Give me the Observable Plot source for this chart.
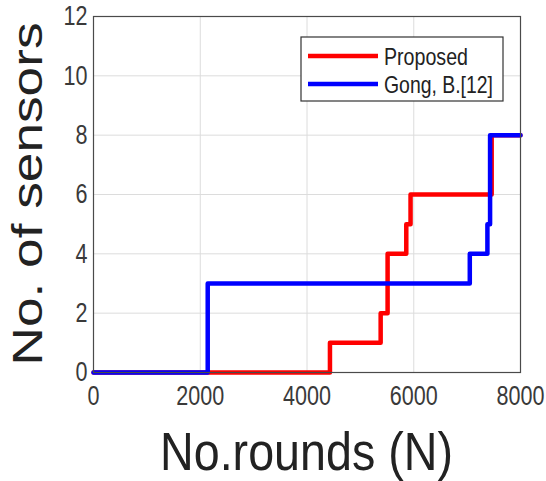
<!DOCTYPE html>
<html>
<head>
<meta charset="utf-8">
<script src="https://cdn.jsdelivr.net/npm/d3@7"></script>
<script src="https://cdn.jsdelivr.net/npm/@observablehq/plot@0.6"></script>
<style>
  html, body { margin: 0; padding: 0; background: #fff; }
  svg { font-family: "Liberation Sans", Arial, sans-serif; }
</style>
</head>
<body>
<div id="chart"></div>
<script>
// Data (step curves)
const seriesNames = ["Proposed", "Gong, B.[12]"];
const roundsProposed = [0, 4430, 5380, 5510, 5860, 5940, 7460, 8000];
const sensorsProposed = [0, 1, 2, 4, 5, 6, 8, 8];
const roundsGong = [0, 2140, 7050, 7380, 7430, 8000];
const sensorsGong = [0, 3, 4, 5, 8, 8];
const xTicks = [0, 2000, 4000, 6000, 8000];
const yTicks = [0, 2, 4, 6, 8, 10, 12];
const xLabel = "No.rounds (N)";
const yLabel = "No. of sensors";

const proposed = roundsProposed.map((x, i) => ({x, y: sensorsProposed[i]}));
const gong = roundsGong.map((x, i) => ({x, y: sensorsGong[i]}));

const W = 546, H = 481;
const chart = Plot.plot({
  width: W,
  height: H,
  marginLeft: 93,
  marginRight: 26,
  marginTop: 16,
  marginBottom: 109,
  style: {fontSize: "28px", fontFamily: "Liberation Sans, Arial, sans-serif", color: "#3a3a3a", background: "#fff"},
  x: {domain: [0, 8000], ticks: xTicks, tickFormat: d3.format("d"), label: null},
  y: {domain: [0, 12], ticks: yTicks, label: null},
  marks: [
    Plot.gridX(xTicks, {stroke: "#dcdcdc", strokeOpacity: 1}),
    Plot.gridY(yTicks, {stroke: "#dcdcdc", strokeOpacity: 1}),
    Plot.axisX(xTicks, {tickSize: 0, tickPadding: 13, tickFormat: d3.format("d"), fill: "#3a3a3a"}),
    Plot.axisY(yTicks, {tickSize: 0, tickPadding: 6, fill: "#3a3a3a"}),
    Plot.line(proposed, {x: "x", y: "y", curve: "step-after", stroke: "#ff0000", strokeWidth: 4.5}),
    Plot.line(gong, {x: "x", y: "y", curve: "step-after", stroke: "#0000ff", strokeWidth: 4.5}),
    Plot.frame({stroke: "#4a4a4a", strokeWidth: 1.2})
  ]
});
document.getElementById("chart").appendChild(chart);

const svg = d3.select(chart);
// condense tick labels horizontally (tall narrow glyphs as in reference)
svg.selectAll("g[aria-label$='tick label'] text").each(function() {
  const len = this.getComputedTextLength();
  d3.select(this).attr("textLength", len * 0.77).attr("lengthAdjust", "spacingAndGlyphs");
});

// axis titles
svg.append("text")
  .attr("x", (93 + (W - 26)) / 2).attr("y", 470)
  .attr("text-anchor", "middle")
  .attr("font-size", 53).attr("fill", "#222")
  .attr("textLength", 293).attr("lengthAdjust", "spacingAndGlyphs")
  .text(xLabel);
svg.append("text")
  .attr("transform", `translate(42,${(16 + (H - 109)) / 2}) rotate(-90)`)
  .attr("text-anchor", "middle")
  .attr("font-size", 42).attr("fill", "#222")
  .attr("textLength", 343).attr("lengthAdjust", "spacingAndGlyphs")
  .text(yLabel);

// legend
const lg = svg.append("g");
lg.append("rect").attr("x", 301).attr("y", 37).attr("width", 202).attr("height", 64)
  .attr("fill", "#fff").attr("stroke", "#333").attr("stroke-width", 1.2);
const legendItems = [
  {name: seriesNames[0], color: "#ff0000", y: 56, len: 84},
  {name: seriesNames[1], color: "#0000ff", y: 84, len: 109}
];
legendItems.forEach(d => {
  lg.append("line").attr("x1", 308).attr("x2", 378).attr("y1", d.y).attr("y2", d.y)
    .attr("stroke", d.color).attr("stroke-width", 4.5);
  lg.append("text").attr("x", 384).attr("y", d.y + 9)
    .attr("text-anchor", "start")
    .attr("font-size", 24.5).attr("fill", "#222")
    .attr("textLength", d.len).attr("lengthAdjust", "spacingAndGlyphs")
    .text(d.name);
});
</script>
</body>
</html>
